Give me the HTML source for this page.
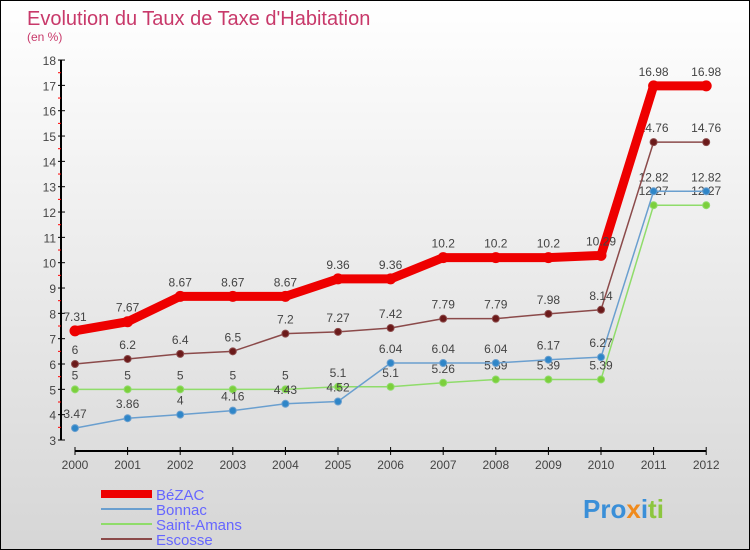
<!DOCTYPE html>
<html><head><meta charset="utf-8"><style>
html,body{margin:0;padding:0}
body{width:750px;height:550px;overflow:hidden;font-family:"Liberation Sans",sans-serif}
#wrap{position:relative;width:748px;height:548px;border:1px solid #000;background:linear-gradient(#fff,#d6d6d6)}
</style></head><body>
<div id="wrap">
<svg id="chart" width="748" height="548" style="position:absolute;left:0;top:0">
<text x="26" y="24" font-size="20" fill="#c8396a">Evolution du Taux de Taxe d'Habitation</text>
<text x="26" y="40" font-size="12" fill="#c8396a">(en %)</text>
<g id="axes"></g><g id="series"></g>
<g>
<rect x="100" y="489" width="51" height="8" fill="#e00"/>
<text x="155" y="499" font-size="15" fill="#6666ff">BéZAC</text>
<rect x="100" y="507" width="51" height="2" fill="#6a9fcf"/>
<text x="155" y="514" font-size="15" fill="#6666ff">Bonnac</text>
<rect x="100" y="522" width="51" height="2" fill="#8fdc6a"/>
<text x="155" y="529" font-size="15" fill="#6666ff">Saint-Amans</text>
<rect x="100" y="537" width="51" height="2" fill="#8b4a4a"/>
<text x="155" y="544" font-size="15" fill="#6666ff">Escosse</text>
</g>
<text x="582" y="517" font-size="26" font-weight="bold"><tspan fill="#3a8fd8">Pro</tspan><tspan fill="#f08a1c">x</tspan><tspan fill="#3a8fd8">i</tspan><tspan fill="#8cc63f">ti</tspan></text>
</svg>
</div>
<script>
const years=[2000,2001,2002,2003,2004,2005,2006,2007,2008,2009,2010,2011,2012];
const yTicks=[3,4,5,6,7,8,9,10,11,12,13,14,15,16,17,18];
const bezac=[7.31,7.67,8.67,8.67,8.67,9.36,9.36,10.2,10.2,10.2,10.29,16.98,16.98];
const bonnac=[3.47,3.86,4,4.16,4.43,4.52,6.04,6.04,6.04,6.17,6.27,12.82,12.82];
const saintAmans=[5,5,5,5,5,5.1,5.1,5.26,5.39,5.39,5.39,12.27,12.27];
const escosse=[6,6.2,6.4,6.5,7.2,7.27,7.42,7.79,7.79,7.98,8.14,14.76,14.76];
const NS="http://www.w3.org/2000/svg";
const X=i=>74+i*52.6, Y=v=>439-(v-3)*25.33;
function mk(t,a,p){const e=document.createElementNS(NS,t);for(const k in a)e.setAttribute(k,a[k]);p.appendChild(e);return e;}
const ax=document.getElementById('axes'), se=document.getElementById('series');
let l=mk('line',{x1:60,y1:Y(18),x2:60,y2:Y(3),stroke:'#000','stroke-width':2},ax);


yTicks.forEach(v=>{
 mk('line',{x1:57,x2:64,y1:Y(v),y2:Y(v),stroke:'#000'},ax);
 if(v<18) mk('line',{x1:57,x2:60,y1:Y(v+0.5),y2:Y(v+0.5),stroke:'#f00'},ax);
 const t=mk('text',{x:55,y:Y(v)+5,'font-size':12,fill:'#444','text-anchor':'end'},ax);
 
 
 t.textContent=v;
});
l=mk('line',{x1:X(0),y1:450,x2:X(12),y2:450,stroke:'#000','stroke-width':2},ax);


years.forEach((y,i)=>{
 mk('line',{x1:X(i),x2:X(i),y1:446,y2:454,stroke:'#000'},ax);
 const t=mk('text',{x:X(i),y:468,'font-size':12,fill:'#444','text-anchor':'middle'},ax);
 
 
 t.textContent=y;
});
function draw(vals,name,color,w,r,dot){
 const g=mk('g',{},se);
 
 
 const p=mk('polyline',{points:vals.map((v,i)=>X(i)+','+Y(v)).join(' '),fill:'none',stroke:color,'stroke-width':w,'stroke-linejoin':'round'},g);
 
 
 vals.forEach((v,i)=>{
  const c=mk('circle',{cx:X(i),cy:Y(v),r:r,fill:dot,stroke:color,'stroke-width':1},g);
  
  
  const t=mk('text',{x:X(i),y:Y(v)-10,'font-size':12,fill:'#444','text-anchor':'middle'},g);
  
  
  t.textContent=v;
 });
}
draw(saintAmans,'saint-amans','#8fdc6a',1.5,3.5,'#7ccf3c');
draw(bonnac,'bonnac','#6a9fcf',1.5,3.5,'#2f86c8');
draw(escosse,'escosse','#8b4a4a',1.5,3.5,'#6b1a1a');
draw(bezac,'bezac','#ee0000',9,5,'#ee0000');
</script>
</body></html>
